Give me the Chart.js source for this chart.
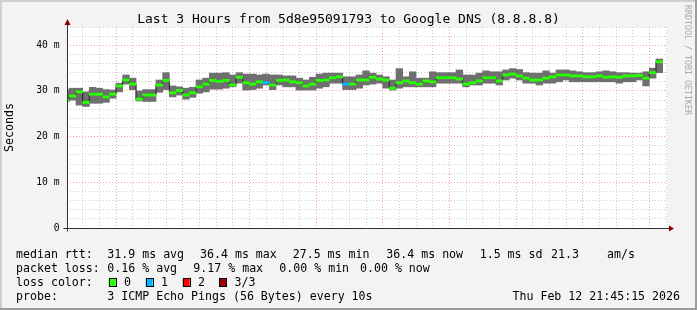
<!DOCTYPE html>
<html>
<head>
<meta charset="utf-8">
<style>
  html, body { margin: 0; padding: 0; background: #f3f3f3; }
  canvas { display: block; }
</style>
<script src="https://cdn.jsdelivr.net/npm/chart.js@4.4.1/dist/chart.umd.min.js"></script>
</head>
<body>
<canvas id="c" width="697" height="310"></canvas>
<script>
(function () {
  'use strict';

  // time is in minutes after 18:00; one RRD step = 2 minutes, first step starts 18:44
  var START_MIN = 44;
  var STEP_MIN = 2;
  var X_MIN = 45.3;   // 18:45:18
  var X_MAX = 225.3;  // 21:45:18

  var MEDIAN = [
    28.0, 28.9, 29.8, 27.5, 29.3, 29.3, 28.7, 29.3, 31.1, 32.4,
    31.5, 28.2, 29.1, 29.1, 31.3, 32.3, 29.6, 30.1, 29.1, 29.6,
    30.9, 31.5, 32.3, 32.1, 32.3, 31.3, 33.0, 31.8, 31.5, 32.0,
    31.8, 31.3, 32.3, 32.4, 32.0, 31.8, 31.1, 31.5, 32.3, 32.4,
    32.9, 33.1, 31.5, 31.5, 32.4, 32.4, 33.0, 32.6, 32.4, 30.6,
    31.8, 32.2, 31.8, 31.5, 32.2, 32.0, 32.9, 32.9, 32.9, 32.6,
    31.5, 31.8, 32.2, 32.9, 32.9, 32.2, 33.5, 33.7, 33.3, 32.8,
    32.4, 32.4, 32.8, 33.1, 33.5, 33.5, 33.3, 33.3, 33.1, 33.1,
    33.3, 33.0, 33.1, 33.0, 33.3, 33.3, 33.4, 32.8, 34.0, 36.4
  ];
  var SMOKE_LO = [
    27.7, 28.0, 26.9, 26.6, 27.3, 27.3, 27.5, 28.4, 29.8, 31.5,
    30.3, 27.8, 27.7, 27.7, 29.7, 30.3, 28.7, 29.1, 28.2, 28.6,
    29.5, 29.8, 30.4, 30.4, 30.6, 30.9, 31.7, 30.2, 30.3, 30.6,
    31.3, 30.3, 31.3, 30.9, 30.9, 30.2, 30.2, 30.2, 30.6, 30.9,
    31.7, 31.7, 30.3, 30.3, 30.6, 31.3, 31.5, 31.7, 30.6, 30.2,
    30.6, 30.9, 30.9, 30.9, 30.9, 30.9, 31.7, 31.7, 31.7, 31.7,
    30.9, 31.3, 31.3, 31.7, 31.7, 31.3, 32.4, 32.8, 32.4, 31.7,
    31.7, 31.3, 31.7, 31.7, 32.0, 32.4, 32.0, 32.0, 32.0, 32.0,
    32.0, 32.0, 32.0, 31.7, 32.0, 32.0, 32.4, 31.1, 32.8, 34.0
  ];
  var SMOKE_HI = [
    30.3, 30.6, 30.6, 29.8, 30.8, 30.6, 30.3, 30.2, 31.7, 33.5,
    32.8, 30.0, 30.3, 30.3, 32.4, 34.0, 31.1, 30.9, 30.6, 30.8,
    32.4, 32.8, 33.9, 33.9, 34.0, 33.5, 34.0, 33.7, 33.7, 33.5,
    33.7, 33.5, 33.5, 33.3, 33.3, 32.8, 32.4, 33.0, 33.7, 33.9,
    33.9, 33.9, 33.1, 33.1, 33.5, 34.4, 33.9, 33.5, 33.1, 32.4,
    34.9, 33.1, 34.2, 32.8, 32.8, 34.2, 34.0, 34.0, 34.0, 34.6,
    33.5, 33.5, 33.9, 34.4, 34.2, 34.2, 34.6, 34.9, 34.7, 34.0,
    33.9, 33.9, 34.4, 33.9, 34.6, 34.6, 34.4, 34.2, 34.0, 34.0,
    34.2, 34.4, 34.2, 34.0, 34.0, 33.9, 33.9, 34.2, 35.0, 37.0
  ];
  // pings lost per step (out of 3)
  var LOSS = [
    0, 0, 0, 0, 0, 0, 0, 0, 0, 0,
    0, 0, 0, 0, 0, 0, 0, 0, 0, 0,
    0, 0, 0, 0, 0, 0, 0, 0, 0, 0,
    1, 0, 0, 0, 0, 0, 0, 0, 0, 0,
    0, 0, 1, 0, 0, 0, 0, 0, 0, 0,
    0, 0, 0, 0, 0, 0, 0, 0, 0, 0,
    0, 0, 0, 0, 0, 0, 0, 0, 0, 0,
    0, 0, 0, 0, 0, 0, 0, 0, 0, 0,
    0, 0, 0, 0, 0, 0, 0, 0, 0, 0
  ];

  var LOSS_COLORS = ['#26ff00', '#00b8ff', '#ff0000', '#a00000'];
  var LOSS_LABELS = ['0', '1', '2', '3/3'];

  var X_MAJOR = [60, 80, 100, 120, 140, 160, 180, 200, 220];
  var X_LABELS = ['19:00', '19:20', '19:40', '20:00', '20:20', '20:40', '21:00', '21:20', '21:40'];
  var Y_MAJOR = [0, 10, 20, 30, 40];
  var Y_LABELS = ['0', '10 m', '20 m', '30 m', '40 m'];
  var Y_MAX = 44;

  var TITLE = 'Last 3 Hours from 5d8e95091793 to Google DNS (8.8.8.8)';
  var LEGEND_RTT = [
    [16, 'median rtt:'], [107.3, '31.9 ms avg'], [200, '36.4 ms max'], [292.7, '27.5 ms min'],
    [386.3, '36.4 ms now'], [479.7, '1.5 ms sd'], [551, '21.3'], [607, 'am/s']
  ];
  var LEGEND_LOSS = [
    [16, 'packet loss:'], [107.3, '0.16 % avg'], [193.3, '9.17 % max'], [279.3, '0.00 % min'], [360, '0.00 % now']
  ];
  var PROBE = '3 ICMP Echo Pings (56 Bytes) every 10s';
  var STAMP = 'Thu Feb 12 21:45:15 2026';

  var MONO = '"DejaVu Sans Mono", "Liberation Mono", monospace';
  var BAND = 0.24;

  // ── build datasets ─────────────────────────────────────────────────────────
  var smoke = [], band = [], line = [], bandColors = [];
  MEDIAN.forEach(function (m, i) {
    var x = START_MIN + STEP_MIN * i + STEP_MIN / 2;
    smoke.push({ x: x, y: [SMOKE_LO[i], SMOKE_HI[i]] });
    band.push({ x: x, y: [m - BAND, m + BAND] });
    line.push({ x: x, y: m });
    bandColors.push(LOSS_COLORS[LOSS[i]]);
  });

  var xGrid = [];
  for (var t = 50; t <= X_MAX; t += 5) xGrid.push(t);
  var yGrid = [];
  for (var v = 0; v <= Y_MAX; v += 2) yGrid.push(v);

  function gridColor(major) {
    return function (ctx) {
      if (!ctx.tick) return 'rgba(128,128,128,0.4)';
      return ctx.tick.value % major === 0 ? 'rgba(255,0,0,0.38)' : 'rgba(128,128,128,0.4)';
    };
  }

  var decor = {
    id: 'decor',
    beforeDraw: function (chart) {
      var c = chart.ctx, a = chart.chartArea, W = chart.width, H = chart.height;
      c.save();
      c.fillStyle = '#f3f3f3';
      c.fillRect(0, 0, W, H);
      c.fillStyle = '#cfcfcf';
      c.fillRect(0, 0, W, 2);
      c.fillRect(0, 0, 2, H);
      c.fillStyle = '#9c9c9c';
      c.fillRect(0, H - 2, W, 2);
      c.fillRect(W - 2, 0, 2, H);
      c.fillStyle = '#ffffff';
      c.fillRect(a.left, a.top, a.right - a.left, a.bottom - a.top);
      c.restore();
    },
    afterDatasetsDraw: function (chart) {
      var c = chart.ctx, a = chart.chartArea;
      var x0 = Math.round(a.left) + 0.5, y0 = Math.round(a.bottom) + 0.5;
      c.save();
      c.strokeStyle = '#303030';
      c.lineWidth = 1;
      c.beginPath();
      c.moveTo(x0, y0 + 3); c.lineTo(x0, a.top - 5);
      c.moveTo(x0 - 4, y0); c.lineTo(a.right + 4, y0);
      c.stroke();
      c.fillStyle = '#8b0000';
      c.beginPath();
      c.moveTo(x0 - 3, a.top - 2); c.lineTo(x0 + 3, a.top - 2); c.lineTo(x0, a.top - 8);
      c.closePath(); c.fill();
      c.beginPath();
      c.moveTo(a.right + 2, y0 - 3); c.lineTo(a.right + 2, y0 + 3); c.lineTo(a.right + 7, y0);
      c.closePath(); c.fill();

      // title
      c.fillStyle = '#000';
      c.font = '13px ' + MONO;
      c.textAlign = 'center';
      c.textBaseline = 'middle';
      c.fillText(TITLE, 348.5, 19.5);

      // watermark
      c.save();
      c.translate(687, 5);
      c.rotate(Math.PI / 2);
      c.fillStyle = '#aaaaaa';
      c.font = '8.3px ' + MONO;
      c.textAlign = 'left';
      c.fillText('RRDTOOL / TOBI OETIKER', 0, 0);
      c.restore();

      // legend block
      c.font = '11.6px ' + MONO;
      c.textAlign = 'left';
      c.fillStyle = '#000';
      LEGEND_RTT.forEach(function (p) { c.fillText(p[1], p[0], 254.5); });
      LEGEND_LOSS.forEach(function (p) { c.fillText(p[1], p[0], 268.5); });
      c.fillText('loss color:', 16, 282.5);
      var sx = [108.7, 145.7, 182.7, 219.3];
      LOSS_COLORS.forEach(function (col, i) {
        c.fillStyle = col;
        c.fillRect(sx[i], 278.5, 7, 8);
        c.strokeStyle = '#000';
        c.strokeRect(Math.round(sx[i]) + 0.5, 278.5, 7, 8);
        c.fillStyle = '#000';
        c.fillText(LOSS_LABELS[i], sx[i] + 15.3, 282.5);
      });
      c.fillText('probe:', 16, 296.5);
      c.fillText(PROBE, 107.3, 296.5);
      c.textAlign = 'right';
      c.fillText(STAMP, 680, 296.5);
      c.restore();
    }
  };

  new Chart(document.getElementById('c'), {
    type: 'bar',
    data: {
      datasets: [
        {
          type: 'bar', data: band, backgroundColor: bandColors,
          grouped: false, barPercentage: 1, categoryPercentage: 1, order: 1
        },
        {
          type: 'line', data: line, borderColor: '#202020', borderWidth: 1,
          stepped: 'middle', pointRadius: 0, fill: false, order: 2
        },
        {
          type: 'bar', data: smoke, backgroundColor: '#6f6f6f',
          grouped: false, barPercentage: 1, categoryPercentage: 1, order: 3
        }
      ]
    },
    options: {
      responsive: false,
      animation: false,
      devicePixelRatio: 1,
      layout: { padding: { top: 27, right: 30, bottom: 82, left: 0 } },
      plugins: { legend: { display: false }, tooltip: { enabled: false } },
      scales: {
        x: {
          type: 'linear', min: X_MIN, max: X_MAX, offset: false,
          afterBuildTicks: function (s) { s.ticks = xGrid.map(function (v) { return { value: v }; }); },
          afterFit: function (s) { s.height = 0; },
          grid: { offset: false, color: gridColor(20), lineWidth: 1, drawTicks: false },
          border: { display: false, dash: [1, 2] },
          ticks: {
            autoSkip: false, maxRotation: 0, padding: 4, color: '#000',
            font: { family: MONO, size: 9.7 },
            callback: function (v) {
              var i = X_MAJOR.indexOf(v);
              return i < 0 ? '' : X_LABELS[i];
            }
          }
        },
        y: {
          type: 'linear', min: 0, max: Y_MAX,
          afterBuildTicks: function (s) { s.ticks = yGrid.map(function (v) { return { value: v }; }); },
          afterFit: function (s) { s.width = 67; },
          grid: { color: gridColor(10), lineWidth: 1, drawTicks: false },
          border: { display: false, dash: [1, 2] },
          title: {
            display: true, text: 'Seconds', color: '#000',
            font: { family: MONO, size: 11.6 }, padding: { top: 3, bottom: 0 }
          },
          ticks: {
            autoSkip: false, padding: 7.5, color: '#000',
            font: { family: MONO, size: 9.7 },
            callback: function (v) {
              var i = Y_MAJOR.indexOf(v);
              return i < 0 ? '' : Y_LABELS[i];
            }
          }
        }
      }
    },
    plugins: [decor]
  });
}());
</script>
</body>
</html>
